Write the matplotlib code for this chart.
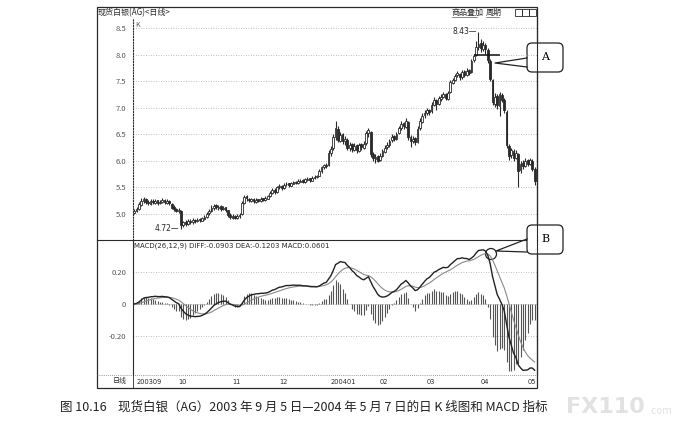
import numpy as np
import pandas as pd
import matplotlib
matplotlib.use('Agg')
import matplotlib.pyplot as plt
from matplotlib.patches import FancyBboxPatch, Rectangle, Circle

plt.rcParams['font.family'] = ['Noto Sans CJK SC', 'DejaVu Sans']

# daily bars, 2003-09-05 .. 2004-05-07
opens = [5.02, 5.05, 5.10, 5.17, 5.24, 5.29, 5.23, 5.19, 5.25, 5.21, 5.26, 5.20, 5.22, 5.27, 5.21, 5.25, 5.19, 5.13, 5.10, 5.05,
         5.06, 4.79, 4.85, 4.81, 4.87, 4.84, 4.89, 4.86, 4.90, 4.87, 4.91, 4.94, 5.01, 5.05, 5.12, 5.16, 5.12, 5.15, 5.09, 5.13,
         5.07, 4.99, 4.93, 4.97, 4.92, 4.96, 5.00, 5.21, 5.33, 5.29, 5.25, 5.29, 5.23, 5.28, 5.24, 5.30, 5.26, 5.29, 5.34, 5.39,
         5.46, 5.41, 5.51, 5.53, 5.48, 5.56, 5.58, 5.53, 5.57, 5.61, 5.58, 5.61, 5.64, 5.60, 5.64, 5.67, 5.63, 5.67, 5.70, 5.72,
         5.80, 5.88, 5.93, 5.92, 6.14, 6.24, 6.44, 6.60, 6.38, 6.50, 6.37, 6.40, 6.24, 6.31, 6.21, 6.29, 6.19, 6.31, 6.25, 6.33,
         6.52, 6.55, 6.13, 6.04, 6.09, 6.01, 6.09, 6.17, 6.26, 6.29, 6.39, 6.46, 6.41, 6.52, 6.61, 6.71, 6.64, 6.73, 6.44, 6.37,
         6.43, 6.36, 6.61, 6.74, 6.86, 6.91, 6.96, 6.93, 7.06, 7.14, 7.07, 7.17, 7.21, 7.26, 7.17, 7.30, 7.47, 7.53, 7.61, 7.64,
         7.57, 7.69, 7.61, 7.71, 7.67, 7.89, 8.00, 8.14, 8.22, 8.11, 8.19, 8.08, 7.88, 7.52, 7.08, 7.22, 7.04, 7.24, 7.14, 6.92,
         6.28, 6.11, 6.19, 6.06, 6.12, 5.82, 5.96, 5.91, 6.01, 5.94, 6.00, 5.84]
highs = [5.10, 5.13, 5.22, 5.30, 5.32, 5.31, 5.26, 5.28, 5.28, 5.29, 5.27, 5.27, 5.30, 5.29, 5.28, 5.26, 5.20, 5.16, 5.12, 5.11,
         5.07, 4.87, 4.88, 4.90, 4.90, 4.92, 4.91, 4.93, 4.92, 4.95, 4.98, 5.03, 5.09, 5.16, 5.18, 5.18, 5.17, 5.16, 5.15, 5.14,
         5.08, 5.01, 5.00, 4.99, 5.00, 5.01, 5.24, 5.36, 5.36, 5.31, 5.31, 5.30, 5.30, 5.29, 5.32, 5.31, 5.33, 5.36, 5.43, 5.48,
         5.49, 5.53, 5.56, 5.54, 5.58, 5.60, 5.59, 5.61, 5.63, 5.62, 5.65, 5.66, 5.65, 5.68, 5.69, 5.68, 5.71, 5.73, 5.74, 5.84,
         5.91, 5.95, 5.96, 6.20, 6.28, 6.50, 6.76, 6.65, 6.55, 6.52, 6.47, 6.43, 6.35, 6.33, 6.33, 6.31, 6.34, 6.33, 6.37, 6.57,
         6.62, 6.57, 6.16, 6.12, 6.11, 6.14, 6.22, 6.29, 6.35, 6.42, 6.50, 6.48, 6.55, 6.66, 6.76, 6.73, 6.80, 6.75, 6.48, 6.47,
         6.45, 6.65, 6.80, 6.90, 6.95, 6.99, 6.98, 7.10, 7.20, 7.17, 7.22, 7.25, 7.30, 7.28, 7.32, 7.52, 7.56, 7.64, 7.70, 7.66,
         7.72, 7.71, 7.74, 7.73, 7.92, 8.02, 8.25, 8.43, 8.30, 8.26, 8.22, 8.12, 7.92, 7.55, 7.28, 7.26, 7.30, 7.28, 7.18, 6.95,
         6.32, 6.25, 6.22, 6.20, 6.15, 6.00, 6.02, 6.05, 6.04, 6.06, 6.03, 5.88]
lows = [5.00, 5.03, 5.08, 5.15, 5.20, 5.18, 5.16, 5.17, 5.18, 5.19, 5.17, 5.18, 5.20, 5.19, 5.19, 5.16, 5.09, 5.06, 5.03, 5.02,
        4.72, 4.76, 4.78, 4.80, 4.81, 4.82, 4.83, 4.84, 4.85, 4.86, 4.89, 4.92, 4.99, 5.03, 5.08, 5.09, 5.08, 5.06, 5.07, 5.04,
        4.95, 4.91, 4.91, 4.90, 4.91, 4.93, 4.99, 5.19, 5.24, 5.22, 5.23, 5.21, 5.21, 5.22, 5.23, 5.24, 5.25, 5.28, 5.32, 5.37,
        5.38, 5.40, 5.47, 5.45, 5.47, 5.53, 5.51, 5.52, 5.56, 5.56, 5.57, 5.60, 5.58, 5.59, 5.63, 5.61, 5.62, 5.66, 5.68, 5.71,
        5.78, 5.85, 5.86, 5.91, 6.10, 6.20, 6.40, 6.35, 6.35, 6.32, 6.30, 6.20, 6.18, 6.16, 6.18, 6.14, 6.17, 6.20, 6.22, 6.30,
        6.45, 6.08, 6.00, 5.96, 5.97, 5.99, 6.07, 6.14, 6.22, 6.27, 6.36, 6.37, 6.40, 6.50, 6.58, 6.60, 6.62, 6.40, 6.26, 6.33,
        6.30, 6.34, 6.58, 6.72, 6.80, 6.87, 6.86, 6.91, 7.03, 6.95, 7.05, 7.13, 7.18, 7.14, 7.15, 7.28, 7.44, 7.50, 7.57, 7.52,
        7.55, 7.58, 7.59, 7.62, 7.65, 7.86, 7.98, 8.08, 8.05, 8.06, 8.02, 7.85, 7.50, 7.05, 7.02, 6.98, 6.85, 7.10, 6.90, 6.25,
        6.02, 6.06, 6.00, 6.03, 5.50, 5.78, 5.85, 5.89, 5.90, 5.92, 5.80, 5.55]
closes = [5.06, 5.10, 5.18, 5.25, 5.28, 5.22, 5.20, 5.24, 5.22, 5.25, 5.21, 5.23, 5.26, 5.22, 5.24, 5.20, 5.12, 5.10, 5.06, 5.08,
          4.80, 4.84, 4.82, 4.86, 4.85, 4.88, 4.87, 4.89, 4.88, 4.92, 4.95, 5.00, 5.06, 5.12, 5.15, 5.13, 5.14, 5.10, 5.12, 5.08,
          4.98, 4.94, 4.96, 4.93, 4.97, 4.98, 5.20, 5.32, 5.30, 5.26, 5.28, 5.24, 5.27, 5.25, 5.29, 5.27, 5.30, 5.33, 5.40, 5.45,
          5.42, 5.50, 5.52, 5.49, 5.55, 5.57, 5.54, 5.58, 5.60, 5.59, 5.62, 5.63, 5.61, 5.65, 5.66, 5.64, 5.68, 5.70, 5.71, 5.80,
          5.88, 5.92, 5.90, 6.15, 6.22, 6.45, 6.62, 6.40, 6.48, 6.38, 6.42, 6.25, 6.30, 6.22, 6.28, 6.20, 6.30, 6.26, 6.32, 6.52,
          6.58, 6.12, 6.05, 6.08, 6.00, 6.10, 6.18, 6.25, 6.30, 6.38, 6.45, 6.42, 6.50, 6.62, 6.70, 6.65, 6.75, 6.45, 6.38, 6.42,
          6.35, 6.60, 6.75, 6.85, 6.90, 6.95, 6.92, 7.05, 7.15, 7.08, 7.18, 7.20, 7.25, 7.18, 7.28, 7.48, 7.52, 7.60, 7.65, 7.58,
          7.68, 7.62, 7.70, 7.66, 7.88, 7.98, 8.15, 8.20, 8.12, 8.18, 8.10, 7.90, 7.55, 7.10, 7.20, 7.05, 7.25, 7.15, 6.95, 6.30,
          6.10, 6.20, 6.05, 6.15, 5.80, 5.95, 5.90, 6.00, 5.95, 6.02, 5.85, 5.62]

month_pos = [0, 18, 41, 61, 83, 104, 124, 147, 167]
month_labels = ['200309', '10', '11', '12', '200401', '02', '03', '04', '05']
price_ticks = [5.0, 5.5, 6.0, 6.5, 7.0, 7.5, 8.0, 8.5]
macd_ticks = [0.20, 0.0, -0.20]

W, H = 678, 426
fig = plt.figure(figsize=(W / 100, H / 100), dpi=100)
bg = fig.add_axes([0, 0, 1, 1])
bg.set_xlim(0, W)
bg.set_ylim(H, 0)
bg.axis('off')


def rect(l, t, r, b):
    return [l / W, 1 - b / H, (r - l) / W, (b - t) / H]


ink = '#2a2a2a'
axp = fig.add_axes(rect(133, 18, 537, 240))
axm = fig.add_axes(rect(133, 240, 537, 375))
for a in (axp, axm):
    a.set_facecolor('none')
    a.set_xlim(-0.5, 172)
    a.set_xticks([])
    a.tick_params(axis='y', length=0, pad=5, labelsize=5.5, labelcolor='#555555')
    for s in a.spines.values():
        s.set_color(ink)
        s.set_linewidth(0.8)
    a.spines['top'].set_visible(False)
    a.spines['bottom'].set_visible(False)
    a.grid(axis='y', linestyle=(0, (1, 2)), color='#aaaaaa', linewidth=0.6)

# candles
x = np.arange(len(closes))
o = np.array(opens)
h = np.array(highs)
l = np.array(lows)
c = np.array(closes)
up = c >= o
axp.vlines(x, l, h, color=ink, linewidth=0.8, zorder=2)
axp.bar(x[up], c[up] - o[up], bottom=o[up], width=0.75, color='white', edgecolor=ink, linewidth=0.6, zorder=3)
axp.bar(x[~up], o[~up] - c[~up], bottom=c[~up], width=0.75, color=ink, edgecolor=ink, linewidth=0.6, zorder=3)
axp.set_ylim(4.51, 8.69)
axp.set_yticks(price_ticks)
axp.set_yticklabels(['%.1f' % v for v in price_ticks])
axp.spines['left'].set_linestyle((0, (1, 1.5)))

imax = int(np.argmax(h))
imin = int(np.argmin(l))
axp.text(imax - 0.6, h[imax], '%.2f—' % h[imax], ha='right', va='center', fontsize=5.5, color=ink, family='DejaVu Sans')
axp.text(imin - 0.6, l[imin], '%.2f—' % l[imin], ha='right', va='center', fontsize=5.5, color=ink, family='DejaVu Sans')
axp.hlines(8.0, 145, 156, color='#111111', linewidth=1.1, zorder=4)
axp.text(0.005, 0.985, 'K', transform=axp.transAxes, fontsize=5, color='#555555', va='top')

# MACD(26,12,9)
s = pd.Series(closes)
diff = s.ewm(span=12, adjust=False).mean() - s.ewm(span=26, adjust=False).mean()
dea = diff.ewm(span=9, adjust=False).mean()
hist = 2 * (diff - dea)
axm.vlines(x, 0, hist, color='#555555', linewidth=0.8)
axm.axhline(0, color='#999999', linewidth=0.4, linestyle=(0, (1, 2)))
axm.plot(x, dea, color='#8a8a8a', linewidth=0.8)
axm.plot(x, diff, color='#222222', linewidth=1.0)
axm.set_ylim(-0.444, 0.40)
axm.set_yticks(macd_ticks)
axm.set_yticklabels(['0.20', '0', '-0.20'])
axm.text(0.002, 0.985, 'MACD(26,12,9) DIFF:-0.0903 DEA:-0.1203 MACD:0.0601',
         transform=axm.transAxes, fontsize=5, color=ink, va='top', family='DejaVu Sans')
for p, lab in zip(month_pos, month_labels):
    axm.text(p + 0.8, -0.05, lab, transform=axm.get_xaxis_transform(), ha='left', va='center',
             fontsize=4.8, color=ink, family='DejaVu Sans')

# frame and header
bg.add_patch(Rectangle((97, 7), 440, 381, fill=False, edgecolor=ink, linewidth=0.9))
bg.plot([97, 537], [240, 240], color=ink, linewidth=0.8)
bg.plot([97, 537], [375, 375], color='#777777', linewidth=0.6, linestyle=(0, (1, 1.5)))
bg.plot([133, 133], [375, 388], color=ink, linewidth=0.6)
bg.text(98, 12.5, '现货白银(AG)<日线>', fontsize=5.8, color=ink, va='center')
bg.text(452, 12.5, '商品叠加', fontsize=5.8, color=ink, va='center')
bg.plot([452, 477], [16.5, 16.5], color=ink, linewidth=0.4)
bg.text(486, 12.5, '周期', fontsize=5.8, color=ink, va='center')
bg.plot([486, 499], [16.5, 16.5], color=ink, linewidth=0.4)
for bx in (515, 522, 529):
    bg.add_patch(Rectangle((bx, 9), 6.5, 7, fill=False, edgecolor=ink, linewidth=0.6))
bg.text(127, 381.5, '日线', fontsize=5, color=ink, va='center', ha='right')

# callouts
bg.add_patch(FancyBboxPatch((527, 43), 36, 29, boxstyle='round,pad=0,rounding_size=5',
                            facecolor='white', edgecolor='#222222', linewidth=0.9, zorder=5))
bg.plot([527, 495, 527], [58, 63, 67], color='#222222', linewidth=0.9, zorder=6)
bg.text(545, 57.5, 'A', fontsize=8, ha='center', va='center', family='DejaVu Serif', zorder=7)
bg.add_patch(FancyBboxPatch((527, 225), 36, 29, boxstyle='round,pad=0,rounding_size=5',
                            facecolor='white', edgecolor='#222222', linewidth=0.9, zorder=5))
bg.plot([527, 496, 527], [239, 251, 252], color='#222222', linewidth=0.9, zorder=6)
bg.add_patch(Circle((491, 254), 5.5, fill=False, edgecolor='#222222', linewidth=0.9, zorder=6))
bg.text(545, 239.5, 'B', fontsize=8, ha='center', va='center', family='DejaVu Serif', zorder=7)

# caption and watermark
bg.text(60, 407, '图 10.16', fontsize=9, color='#222222', va='center')
bg.text(118, 407, '现货白银（AG）2003 年 9 月 5 日—2004 年 5 月 7 日的日 K 线图和 MACD 指标',
        fontsize=9, color='#222222', va='center')
bg.text(566, 407, 'FX110', fontsize=16, color='#e2e2e2', va='center', weight='bold', family='DejaVu Sans')
bg.text(648, 411, '.com', fontsize=7, color='#e2e2e2', va='center', family='DejaVu Sans')

fig.savefig('out.png', dpi=100, facecolor='white')
